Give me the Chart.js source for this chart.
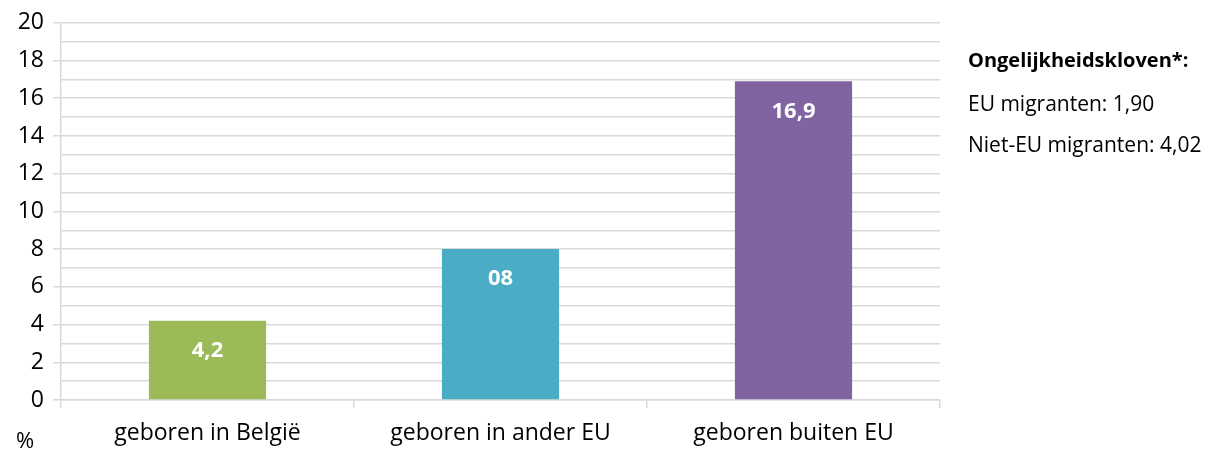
<!DOCTYPE html>
<html><head><meta charset="utf-8">
<script src="https://cdn.jsdelivr.net/npm/chart.js@4/dist/chart.umd.min.js"></script>
<style>
html,body{margin:0;padding:0;background:#fff;}
#wrap{position:relative;width:1205px;height:449px;}
canvas{position:absolute;left:0;top:0;}
.t{position:absolute;font-family:"Open Sans",sans-serif;color:#000;white-space:nowrap;line-height:1;}
</style></head>
<body>
<div id="wrap">
<canvas id="c" width="1205" height="449"></canvas>
<div class="t" style="left:968px;top:50px;font-size:20px;font-weight:bold;">Ongelijkheidskloven*:</div>
<div class="t" style="left:968px;top:93px;font-size:21px;">EU migranten: 1,90</div>
<div class="t" style="left:968px;top:134px;font-size:21px;">Niet-EU migranten: 4,02</div>
<div class="t" style="left:16px;top:428px;font-size:22px;">%</div>
</div>
<script>
const categories = ['geboren in België', 'geboren in ander EU', 'geboren buiten EU'];
const values = [4.2, 8, 16.9];
const valueLabels = ['4,2', '08', '16,9'];
const barColors = ['#9BBB59', '#4BACC6', '#8064A2'];
const yMin = 0, yMax = 20, yStep = 1;

const FONT = '"Open Sans", sans-serif';

const labelPlugin = {
  id: 'valueLabels',
  afterDatasetsDraw(chart) {
    const ctx = chart.ctx;
    const meta = chart.getDatasetMeta(0);
    ctx.save();
    ctx.fillStyle = '#fff';
    ctx.font = 'bold 22px ' + FONT;
    ctx.textAlign = 'center';
    ctx.textBaseline = 'middle';
    meta.data.forEach((bar, i) => {
      ctx.fillText(valueLabels[i], bar.x, bar.y + 30);
    });
    ctx.restore();
  }
};

new Chart(document.getElementById('c'), {
  type: 'bar',
  data: {
    labels: categories,
    datasets: [{
      data: values,
      backgroundColor: barColors,
      borderWidth: 0,
      categoryPercentage: 0.4,
      barPercentage: 1.0
    }]
  },
  options: {
    responsive: false,
    animation: false,
    devicePixelRatio: 1,
    layout: { padding: { left: 0, right: 265, top: 22, bottom: 0 } },
    plugins: { legend: { display: false }, tooltip: { enabled: false } },
    scales: {
      x: {
        grid: {
          offset: true,
          drawOnChartArea: false,
          drawTicks: true,
          tickLength: 8,
          color: '#d9d9d9',
          lineWidth: 1.5
        },
        border: { display: true, color: '#d9d9d9', width: 1.5 },
        ticks: {
          color: '#000',
          font: { family: FONT, size: 23 },
          padding: 12,
          maxRotation: 0
        },
        afterFit(scale) { scale.height = 49; }
      },
      y: {
        min: yMin, max: yMax,
        grid: {
          color: '#d9d9d9',
          lineWidth: 1.5,
          tickLength: 8,
          tickColor: (c) => (c.tick && c.tick.value % 2 === 0) ? '#d9d9d9' : 'rgba(0,0,0,0)'
        },
        border: { display: true, color: '#d9d9d9', width: 1.5 },
        ticks: {
          stepSize: yStep,
          color: '#000',
          font: { family: FONT, size: 23 },
          padding: 9,
          autoSkip: false,
          callback: (v) => (v % 2 === 0 ? String(v) : '')
        },
        afterFit(scale) { scale.width = 61; }
      }
    }
  },
  plugins: [labelPlugin]
});
</script>
</body></html>
